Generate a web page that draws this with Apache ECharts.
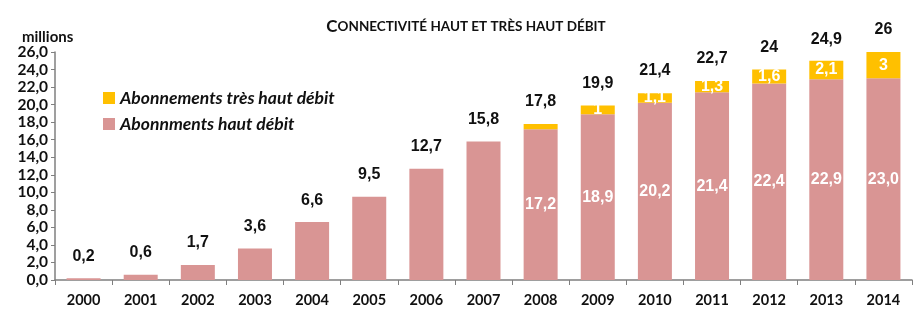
<!DOCTYPE html>
<html>
<head>
<meta charset="utf-8">
<script src="https://cdn.jsdelivr.net/npm/echarts@6/dist/echarts.min.js"></script>
<style>
  html, body { margin: 0; padding: 0; background: #ffffff; }
  #chart { width: 923px; height: 332px; }
</style>
</head>
<body>
<div id="chart"></div>
<script>
// Années
const years = ['2000','2001','2002','2003','2004','2005','2006','2007','2008','2009','2010','2011','2012','2013','2014'];
// Abonnements haut débit (millions)
const hautDebit = [0.2, 0.6, 1.7, 3.6, 6.6, 9.5, 12.7, 15.8, 17.2, 18.9, 20.2, 21.4, 22.4, 22.9, 23.0];
// Abonnements très haut débit (millions)
const tresHautDebit = [null, null, null, null, null, null, null, null, 0.6, 1, 1.1, 1.3, 1.6, 2.1, 3];
// Total affiché au-dessus de chaque barre
const totals = [0.2, 0.6, 1.7, 3.6, 6.6, 9.5, 12.7, 15.8, 17.8, 19.9, 21.4, 22.7, 24, 24.9, 26];
// Graduations de l'axe vertical
const yMin = 0, yMax = 26, yStep = 2;

const fr1 = v => v.toFixed(1).replace('.', ',');
const frShort = v => String(v).replace('.', ',');

const PINK = '#d99594';
const GOLD = '#ffc000';
const FONT = 'Lato';
const NUMFONT = 'Liberation Sans';

const hautData = hautDebit.map((v, i) => ({
  value: v,
  label: { show: i >= 8 }
}));
const tresData = tresHautDebit.map((v, i) => ({
  value: v,
  label: { show: v !== null && i >= 9 }
}));

const chart = echarts.init(document.getElementById('chart'), null, { renderer: 'canvas' });
chart.setOption({
  animation: false,
  backgroundColor: '#ffffff',
  title: [
    {
      text: '{a|C}{b|ONNECTIVITÉ HAUT ET TRÈS HAUT DÉBIT}',
      left: 461, top: 13, textAlign: 'center',
      textStyle: {
        rich: {
          a: { fontFamily: FONT, fontWeight: 'bold', fontSize: 17, color: '#111' },
          b: { fontFamily: FONT, fontWeight: 'bold', fontSize: 13.5, color: '#111' }
        }
      }
    },
    {
      text: 'millions',
      left: 17, top: 25,
      textStyle: { fontFamily: FONT, fontWeight: 'bold', fontSize: 15, color: '#111' }
    }
  ],
  legend: {
    orient: 'vertical',
    left: 98, top: 84,
    itemGap: 8,
    itemWidth: 12, itemHeight: 12,
    icon: 'rect',
    data: ['Abonnements très haut débit', 'Abonnments haut débit'],
    textStyle: { fontFamily: FONT, fontWeight: 'bold', fontStyle: 'italic', fontSize: 17.5, color: '#111' }
  },
  grid: { left: 55, right: 11, top: 52, bottom: 52 },
  xAxis: {
    type: 'category',
    data: years,
    axisLine: { lineStyle: { color: '#7f7f7f', width: 1.5 } },
    axisTick: { show: true, length: 5, lineStyle: { color: '#7f7f7f' } },
    axisLabel: { margin: 13, fontFamily: FONT, fontWeight: 'bold', fontSize: 14.5, color: '#111' }
  },
  yAxis: {
    type: 'value',
    min: yMin, max: yMax, interval: yStep,
    axisLine: { show: true, lineStyle: { color: '#7f7f7f', width: 1.5 } },
    axisTick: { show: true, length: 4, lineStyle: { color: '#7f7f7f' } },
    splitLine: { show: false },
    axisLabel: { margin: 7, fontFamily: FONT, fontWeight: 'bold', fontSize: 15.5, color: '#111', formatter: v => fr1(v) }
  },
  series: [
    {
      name: 'Abonnments haut débit',
      type: 'bar',
      stack: 'total',
      barWidth: 34,
      itemStyle: { color: PINK },
      label: {
        position: 'inside',
        fontFamily: NUMFONT, fontWeight: 'bold', fontSize: 16, color: '#ffffff',
        formatter: p => fr1(p.value)
      },
      data: hautData
    },
    {
      name: 'Abonnements très haut débit',
      type: 'bar',
      stack: 'total',
      barWidth: 34,
      itemStyle: { color: GOLD },
      label: {
        position: 'inside',
        fontFamily: NUMFONT, fontWeight: 'bold', fontSize: 16, color: '#ffffff',
        formatter: p => frShort(p.value)
      },
      data: tresData
    },
    {
      name: 'Total',
      type: 'bar',
      barWidth: 34,
      barGap: '-100%',
      z: 1,
      itemStyle: { color: 'rgba(0,0,0,0)' },
      label: {
        show: true,
        position: 'top',
        distance: 14,
        fontFamily: NUMFONT, fontWeight: 'bold', fontSize: 16, color: '#111',
        formatter: p => frShort(p.value)
      },
      data: totals
    }
  ]
});
</script>
</body>
</html>
